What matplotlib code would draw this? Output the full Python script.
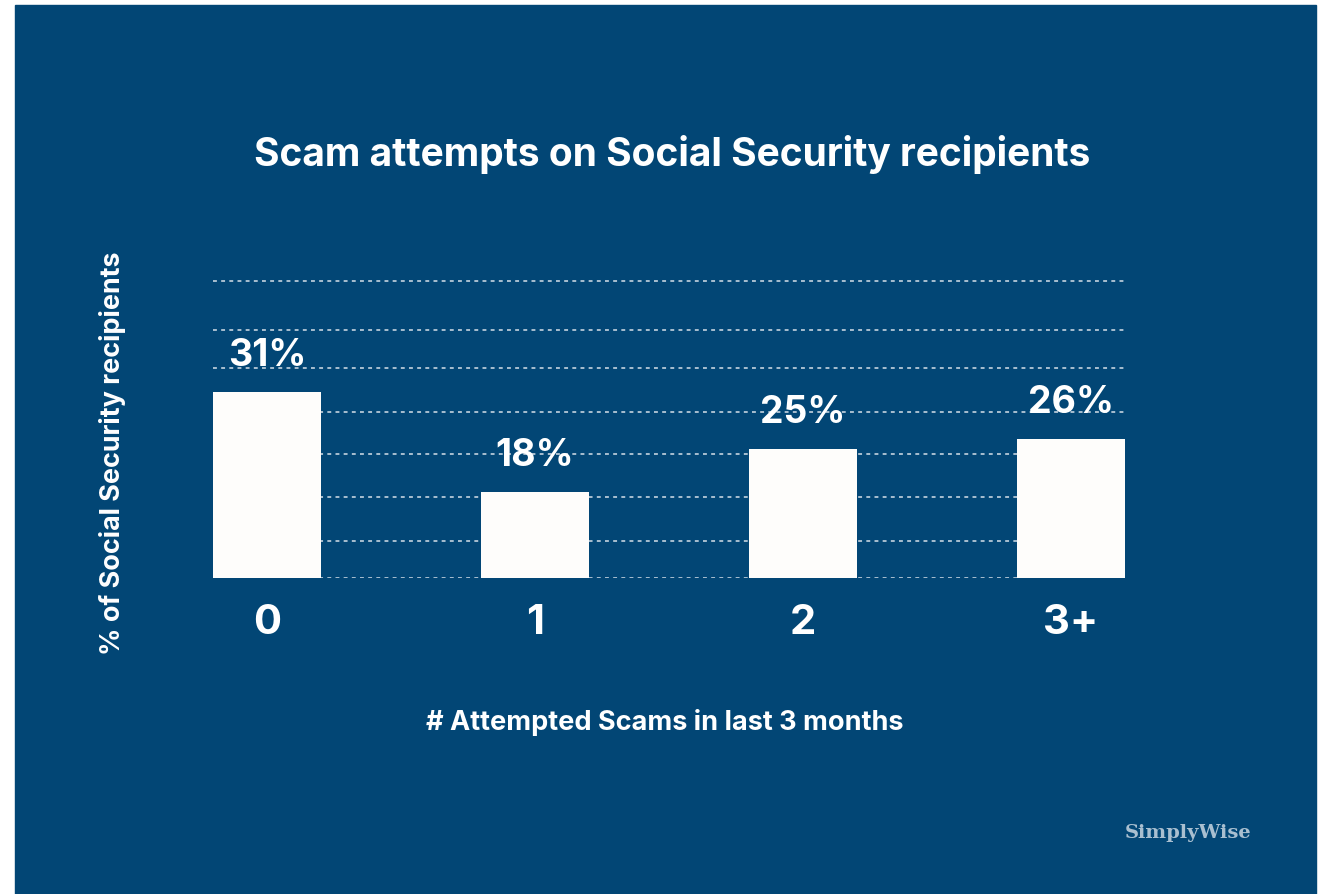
import matplotlib
matplotlib.use("Agg")
import matplotlib.pyplot as plt
from matplotlib.patches import Rectangle

categories = ["0", "1", "2", "3+"]
pct_labels = [31, 18, 25, 26]
# bar heights as drawn in the picture (same scale as the 31% bar)
bar_heights = [31, 14.3, 21.5, 23.2]
grid_levels = [6.2, 13.5, 20.7, 27.7, 35, 41.3, 49.4]

bg = "#024675"
grid_col = "#a9bfd0"

plt.rcParams["font.family"] = ["Inter", "DejaVu Sans"]

fig = plt.figure(figsize=(13.25, 8.94), dpi=100)
fig.patch.set_facecolor("white")
fig.patches.append(Rectangle((15 / 1325, 0), 1301 / 1325, 889 / 894,
                             transform=fig.transFigure, color=bg, zorder=-10))

ax = fig.add_axes([213 / 1325, (894 - 578) / 894, 912 / 1325, 308 / 894])
ax.set_facecolor("none")
x = list(range(len(categories)))
ax.bar(x, bar_heights, width=0.403, color="#fefdfb", zorder=3)
for g in [0] + grid_levels:
    ax.axhline(g, color=grid_col, lw=1.4, ls=(0, (2, 2.2)), zorder=1)

for xi, h, p in zip(x, bar_heights, pct_labels):
    ax.text(xi, h + 3.0, f"{p}%", ha="center", va="bottom", color="white",
            fontsize=27, fontweight="bold")

ax.set_xlim(-0.2015, 3.2015)
ax.set_ylim(0, 51.3)
ax.set_xticks(x, categories)
ax.set_yticks([])
ax.tick_params(axis="x", length=0, pad=19, labelsize=30, labelcolor="white")
for t in ax.get_xticklabels():
    t.set_fontweight("bold")
for s in ax.spines.values():
    s.set_visible(False)

fig.text(672 / 1325, 1 - 155 / 894, "Scam attempts on Social Security recipients",
         ha="center", va="center", color="white", fontsize=28, fontweight="bold")
fig.text(112 / 1325, 1 - 453 / 894, "% of Social Security recipients",
         ha="center", va="center", rotation=90, color="white", fontsize=19.4,
         fontweight="bold")
fig.text(665 / 1325, 1 - 722 / 894, "# Attempted Scams in last 3 months",
         ha="center", va="center", color="white", fontsize=19.5, fontweight="bold")
fig.text(1188 / 1325, 1 - 833 / 894, "SimplyWise", ha="center", va="center",
         color=grid_col, fontsize=14, fontweight="bold", family="DejaVu Serif")

fig.savefig("out.png", dpi=100, facecolor=fig.get_facecolor())
